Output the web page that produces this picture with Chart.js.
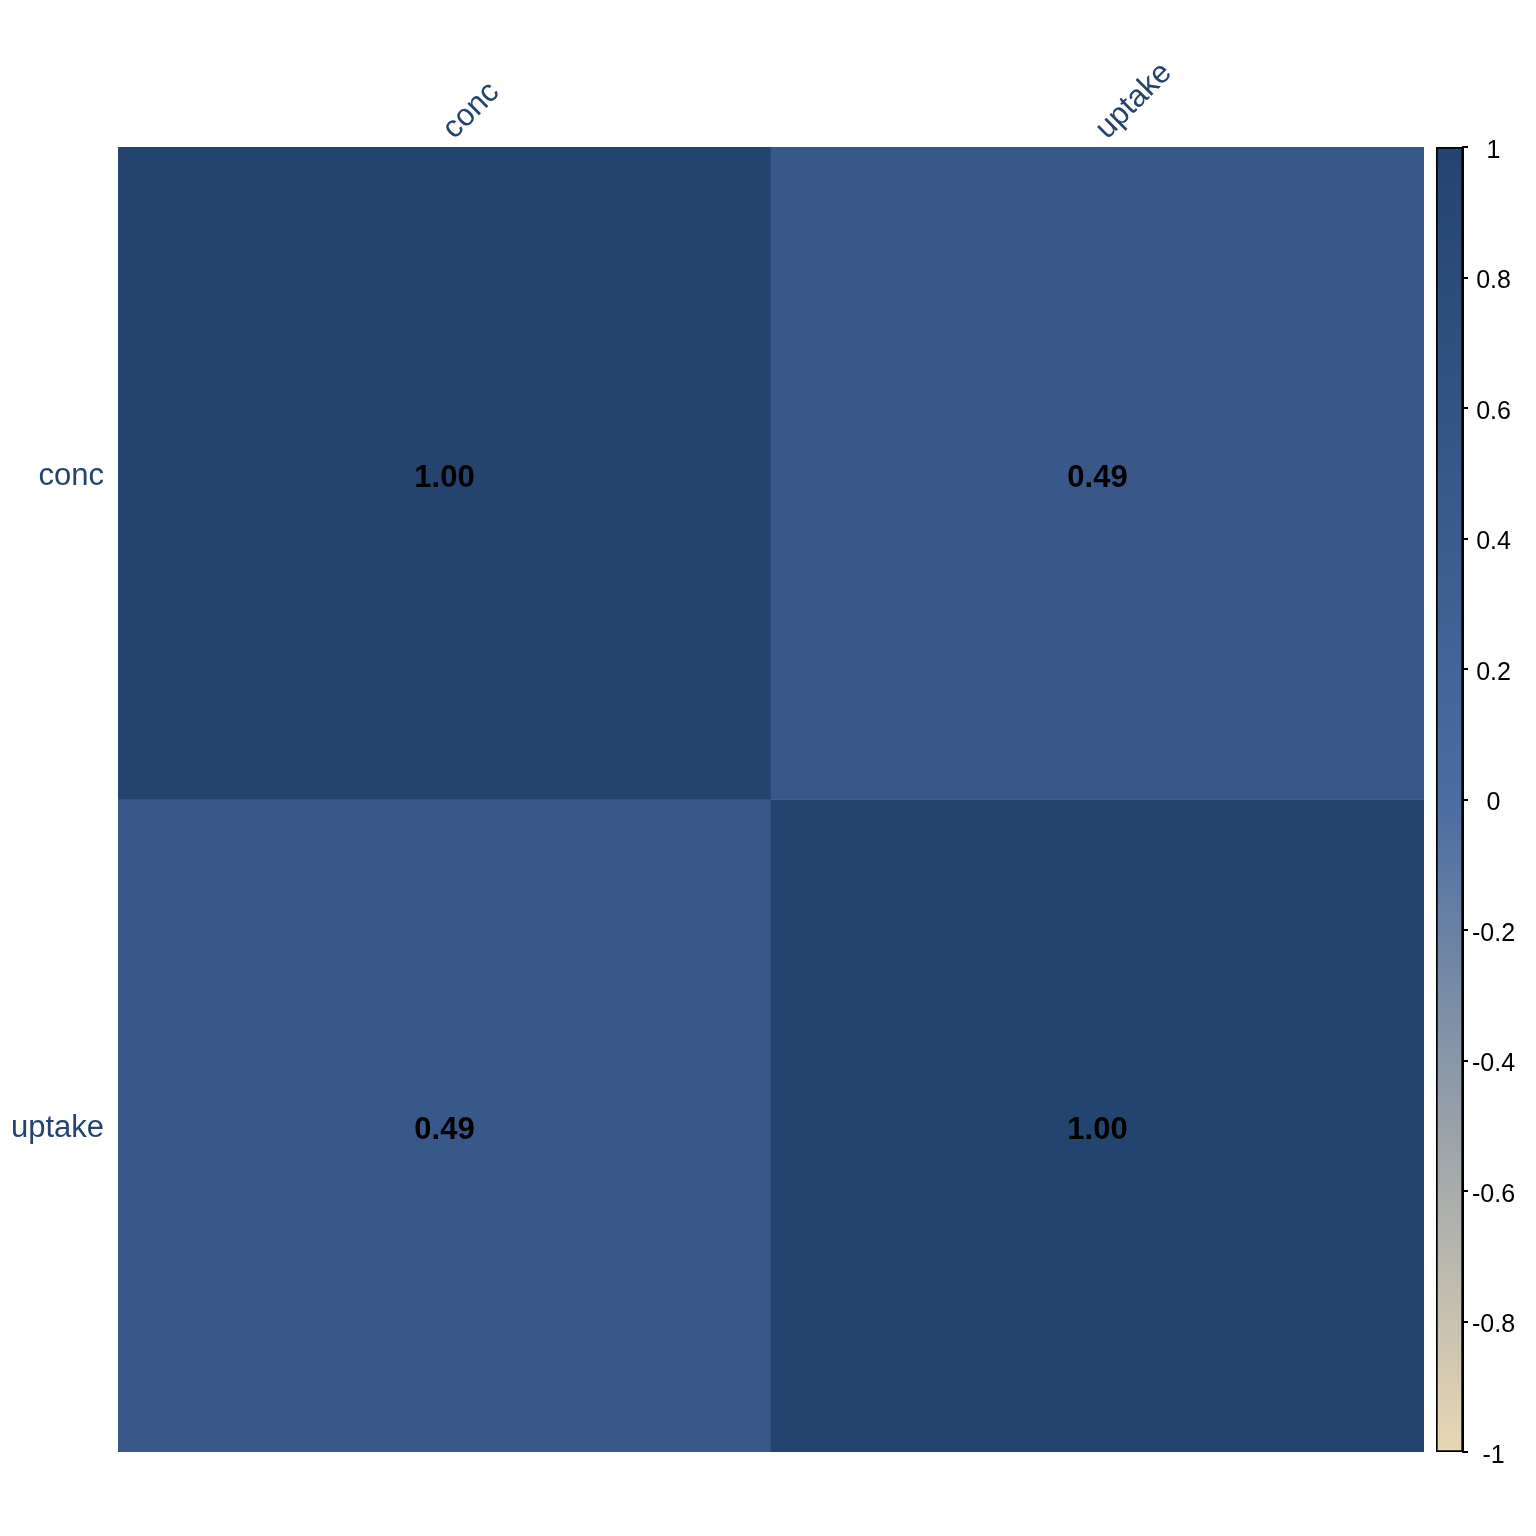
<!DOCTYPE html>
<html>
<head>
<meta charset="utf-8">
<script src="https://cdn.jsdelivr.net/npm/chart.js@4.4.1/dist/chart.umd.min.js"></script>
<style>
  html, body { margin: 0; padding: 0; background: #fff; }
  #wrap { position: relative; width: 1536px; height: 1536px; }
  #main { position: absolute; left: 0; top: 0; }
  #bar { position: absolute; left: 1420px; top: 0; }
</style>
</head>
<body>
<div id="wrap">
  <canvas id="main" width="1536" height="1536"></canvas>
  <canvas id="bar" width="116" height="1536"></canvas>
</div>
<script>
// variables (columns and rows of the correlation matrix)
const variables = ['conc', 'uptake']
// correlation values, row by row
const corrConc = [1.00, 0.49]
const corrUptake = [0.49, 1.00]
const corrRows = [corrConc, corrUptake]
// colour bar ticks
const legendTicks = [1, 0.8, 0.6, 0.4, 0.2, 0, -0.2, -0.4, -0.6, -0.8, -1]
// palette: value -> colour
const paletteStops = [-1, 0, 1]
const paletteColors = ['#E8D7B4', '#4A6CA0', '#23446F']

const labelColor = '#23446F'
const fontFamily = 'Arial, "Liberation Sans", sans-serif'

function hexToRgb(h) {
  const n = parseInt(h.slice(1), 16)
  return [(n >> 16) & 255, (n >> 8) & 255, n & 255]
}

function valueColor(v) {
  for (let i = 0; i < paletteStops.length - 1; i++) {
    const a = paletteStops[i], b = paletteStops[i + 1]
    if (v >= a && v <= b) {
      const t = (v - a) / (b - a)
      const c1 = hexToRgb(paletteColors[i]), c2 = hexToRgb(paletteColors[i + 1])
      const c = c1.map((x, k) => Math.round(x + (c2[k] - x) * t))
      return `rgb(${c[0]},${c[1]},${c[2]})`
    }
  }
  return paletteColors[paletteColors.length - 1]
}

const nRows = variables.length

// one floating-bar dataset per row; each bar spans one row band
const datasets = corrRows.map((row, i) => ({
  label: variables[i],
  data: row.map(() => [nRows - i - 1, nRows - i]),
  values: row,
  backgroundColor: row.map(v => valueColor(v)),
  borderWidth: 0,
  barPercentage: 1,
  categoryPercentage: 1,
  grouped: false
}))

// draws the numbers in the cells
const cellText = {
  id: 'cellText',
  afterDatasetsDraw(chart) {
    const ctx = chart.ctx
    ctx.save()
    ctx.font = `bold 31px ${fontFamily}`
    ctx.fillStyle = '#000'
    ctx.textAlign = 'center'
    ctx.textBaseline = 'middle'
    chart.data.datasets.forEach((ds, di) => {
      const meta = chart.getDatasetMeta(di)
      meta.data.forEach((el, j) => {
        const p = el.getProps(['x', 'y', 'base'], true)
        ctx.fillText(ds.values[j].toFixed(2), p.x, (p.y + p.base) / 2 + 5)
      })
    })
    ctx.restore()
  }
}

new Chart(document.getElementById('main'), {
  type: 'bar',
  data: { labels: variables, datasets: datasets },
  options: {
    responsive: false,
    animation: false,
    layout: { padding: { left: 0, top: 0, right: 112, bottom: 84 } },
    plugins: { legend: { display: false }, tooltip: { enabled: false } },
    scales: {
      x: {
        position: 'top',
        offset: true,
        grid: { display: false, drawTicks: false },
        border: { display: false },
        ticks: {
          autoSkip: false,
          minRotation: 45,
          maxRotation: 45,
          padding: 0,
          labelOffset: 30,
          color: labelColor,
          font: { family: fontFamily, size: 31 }
        },
        afterFit(scale) { scale.height = 147 }
      },
      y: {
        min: 0,
        max: nRows,
        grid: { display: false, drawTicks: false },
        border: { display: false },
        afterBuildTicks(scale) {
          scale.ticks = variables.map((v, i) => ({ value: nRows - i - 0.5 }))
        },
        ticks: {
          padding: 14,
          labelOffset: 3,
          color: labelColor,
          font: { family: fontFamily, size: 31 },
          callback: (value) => variables[Math.round(nRows - value - 0.5)]
        },
        afterFit(scale) { scale.width = 118 }
      }
    }
  },
  plugins: [cellText]
})

// colour bar
new Chart(document.getElementById('bar'), {
  type: 'bar',
  data: {
    labels: [''],
    datasets: [{
      data: [[-1, 1]],
      backgroundColor(context) {
        const area = context.chart.chartArea
        if (!area) return paletteColors[1]
        const g = context.chart.ctx.createLinearGradient(0, area.bottom, 0, area.top)
        paletteStops.forEach((s, i) => g.addColorStop((s + 1) / 2, paletteColors[i]))
        return g
      },
      borderColor: '#000',
      borderWidth: 2,
      borderSkipped: false,
      barPercentage: 1,
      categoryPercentage: 1
    }]
  },
  options: {
    responsive: false,
    animation: false,
    layout: { padding: { left: 16, top: 147, right: 0, bottom: 84 } },
    plugins: { legend: { display: false }, tooltip: { enabled: false } },
    scales: {
      x: { display: false },
      y: {
        position: 'right',
        min: -1,
        max: 1,
        afterBuildTicks(scale) {
          scale.ticks = legendTicks.map(v => ({ value: v }))
        },
        grid: { drawOnChartArea: false, tickLength: 5, color: '#000', lineWidth: 2 },
        border: { display: true, color: '#000', width: 2 },
        ticks: {
          padding: 4,
          labelOffset: 4,
          crossAlign: 'center',
          color: '#000',
          font: { family: fontFamily, size: 25 },
          callback: (v) => String(Math.round(v * 10) / 10)
        },
        afterFit(scale) { scale.width = 73 }
      }
    }
  }
})
</script>
</body>
</html>
